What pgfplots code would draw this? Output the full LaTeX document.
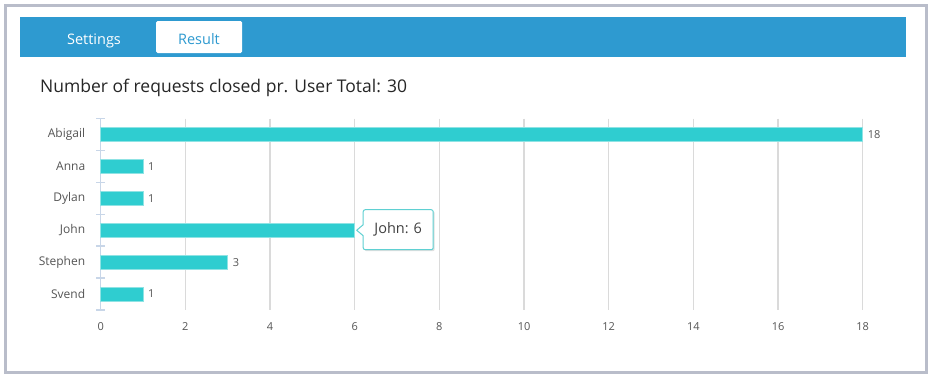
\documentclass[border=0pt]{standalone}
\usepackage{fontspec}
\setmainfont{Open Sans}
\usepackage{pgfplots}
\pgfplotsset{compat=1.18}
\usetikzlibrary{shadows}
\definecolor{framec}{HTML}{B9BDCA}
\definecolor{tabblue}{HTML}{2E9AD0}
\definecolor{barc}{HTML}{2FCDD0}
\definecolor{barb}{HTML}{8FE3E4}
\definecolor{gridc}{HTML}{DADADA}
\definecolor{axisc}{HTML}{C8D6E8}
\definecolor{labc}{HTML}{555555}
\definecolor{tipc}{HTML}{5FD0D2}

\pgfplotstableread{
y v
0 18
1 1
2 1
4 3
5 1
}\labelled
\pgfplotstableread{
y v
3 6
}\john

\begin{document}
\begin{tikzpicture}[x=1pt,y=-1pt]
\fill[white] (0,0) rectangle (933,380);
\draw[framec, line width=3pt] (5.5,5.5) rectangle (926.5,372.5);
\fill[tabblue] (20,16.5) rectangle (906,57);
\fill[white, rounded corners=1.5pt] (156,21) rectangle (242,53);
\node[anchor=base, white, inner sep=0pt, font=\fontsize{14.5}{17}\selectfont] at (94,44) {Settings};
\node[anchor=base, tabblue, inner sep=0pt, font=\fontsize{14.5}{17}\selectfont] at (199,44) {Result};
\node[anchor=base west, inner sep=0pt, text=black!85, font=\fontsize{17.5}{21}\selectfont] at (40,92) {Number of requests closed pr. User Total: 30};
\coordinate (O) at (100.7,310);

\begin{axis}[
  at={(O)}, anchor=south west,
  scale only axis, width=762pt, height=191.5pt,
  xbar, bar width=13.5pt, bar shift=0pt,
  xmin=0, xmax=18, ymin=-0.5, ymax=5.5, y dir=reverse,
  xtick={0,2,...,18},
  ytick={0,...,5}, yticklabels={Abigail,Anna,Dylan,John,Stephen,Svend},
  minor ytick={-0.5,0.5,...,5.5},
  major tick length=0pt, minor tick length=9pt, tick align=outside,
  axis x line=bottom, axis y line=left,
  x axis line style={draw=none},
  y axis line style={-, draw=axisc, line width=1.5pt},
  minor y tick style={draw=axisc, line width=1.5pt},
  xmajorgrids, major x grid style={draw=gridc, line width=1.4pt},
  /pgf/number format/assume math mode=true,
  yticklabel style={font=\fontsize{12}{14}\selectfont, text=labc, xshift=-12pt},
  xticklabel style={font=\fontsize{11}{13}\selectfont, text=labc, yshift=-9pt},
  clip=false,
]
\addplot[fill=barc, draw=barb, line width=0.6pt,
  nodes near coords, nodes near coords align={horizontal},
  every node near coord/.style={font=\fontsize{11}{13}\selectfont, text=labc, anchor=west, xshift=1.5pt},
] table[x=v, y=y] {\labelled};
\addplot[fill=barc, draw=barb, line width=0.6pt] table[x=v, y=y] {\john};
\coordinate (J) at (axis cs:6,3);
\end{axis}
\draw[tipc, fill=white, line width=1pt, line join=round,
      drop shadow={opacity=0.25, shadow xshift=1.5pt, shadow yshift=-1.5pt}]
  ([shift={(2,0)}]J) -- ([shift={(8.5,-5.5)}]J)
  [rounded corners=2pt] -- ([shift={(8.5,-20.5)}]J) -- ([shift={(78.5,-20.5)}]J)
  -- ([shift={(78.5,19.5)}]J) -- ([shift={(8.5,19.5)}]J) [sharp corners] -- ([shift={(8.5,5.5)}]J) -- cycle;
\node[text=black!75, font=\fontsize{14.5}{17}\selectfont] at ([shift={(43.5,-1)}]J) {John: 6};
\end{tikzpicture}
\end{document}
